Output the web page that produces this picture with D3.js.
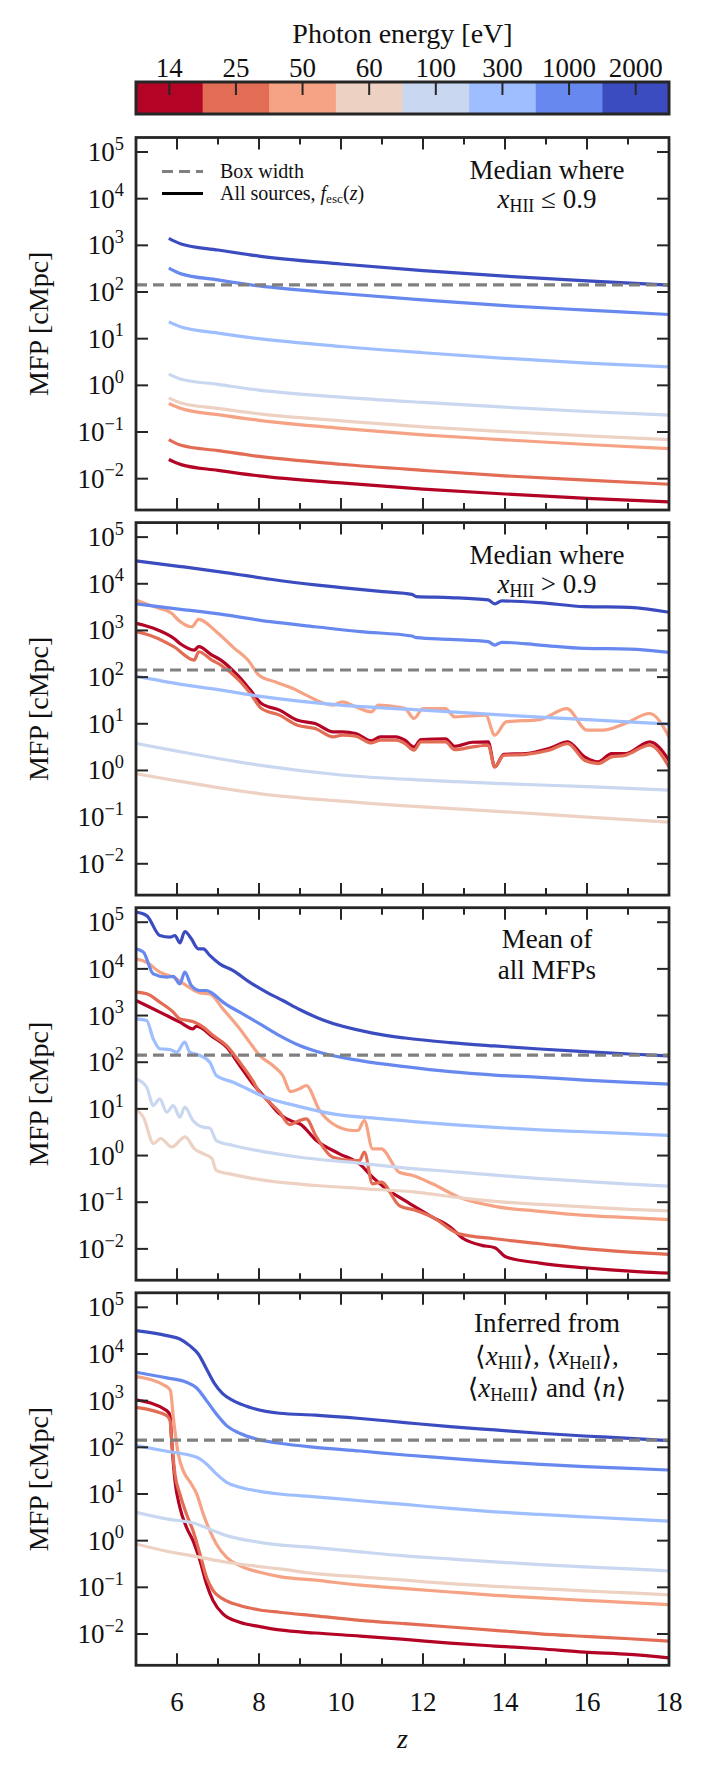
<!DOCTYPE html>
<html>
<head>
<meta charset="utf-8">
<script src="https://cdn.jsdelivr.net/npm/d3@7"></script>
<style>
  body { margin: 0; background: #fff; }
  svg { display: block; font-family: "Liberation Serif", "DejaVu Serif", serif; }
</style>
</head>
<body>
<svg id="chart"></svg>
<script>
// photon energies and their colours (coolwarm, discrete)
const energies = [14, 25, 50, 60, 100, 300, 1000, 2000];
const energyColors = ["#b40426", "#e36c55", "#f6a385", "#edd1c2", "#c9d7f0", "#9ebeff", "#6788ee", "#3b4cc0"];

const boxWidth = 142; // cMpc
const zMajorTicks = [6, 8, 10, 12, 14, 16, 18];
const zMinorTicks = [7, 9, 11, 13, 15, 17];
const yTickExps = [-2, -1, 0, 1, 2, 3, 4, 5];

// panel 1: median where x_HII <= 0.9 (shared redshifts)
const zMedianLow = [5.8, 6.1, 7, 8, 10, 12, 14, 16, 18];
const mfpMedianLow = [
  [0.0257, 0.020, 0.0151, 0.0115, 0.0081, 0.0060, 0.0047, 0.0038, 0.0032],
  [0.069, 0.052, 0.040, 0.030, 0.0204, 0.0151, 0.0115, 0.0093, 0.0076],
  [0.41, 0.32, 0.235, 0.178, 0.120, 0.087, 0.068, 0.054, 0.044],
  [0.54, 0.42, 0.32, 0.245, 0.174, 0.129, 0.102, 0.083, 0.069],
  [1.74, 1.35, 1.05, 0.79, 0.56, 0.43, 0.34, 0.275, 0.23],
  [22.9, 17.8, 13.2, 10.0, 6.8, 5.0, 3.8, 3.0, 2.5],
  [324, 245, 182, 135, 93, 68, 51, 41, 33],
  [1410, 1070, 794, 589, 398, 288, 219, 174, 141]
];

// panel 2: median where x_HII > 0.9, [z, mfp]
const mfpMedianHigh = [
  [[5,1420],[5.43,1110],[5.92,678],[6.09,512],[6.42,380],[6.53,449],[6.85,297],[7.07,232],[7.51,102],[7.79,52.6],[8.06,27.2],[8.5,19.6],[8.94,11.9],[9.37,10.1],[9.81,6.7],[10.03,6.7],[10.36,6.18],[10.74,4.3],[10.96,5.24],[11.34,5.24],[11.56,4.44],[11.78,3.19],[11.95,4.59],[12.55,4.74],[12.77,3.3],[13.21,4.02],[13.59,4.09],[13.75,1.19],[13.97,2.22],[14.52,2.3],[15.07,2.94],[15.53,4.09],[15.94,1.95],[16.27,1.52],[16.6,2.3],[16.93,2.3],[17.53,4.09],[18,1.65]],
  [[5,942],[5.43,735],[5.92,449],[6.42,232],[6.53,350],[6.85,232],[7.07,181],[7.51,86.3],[7.79,44.6],[8.06,21.2],[8.5,15.3],[8.94,9.31],[9.37,7.91],[9.81,5.24],[10.03,5.69],[10.36,5.41],[10.74,3.89],[10.96,4.44],[11.34,4.44],[11.56,3.77],[11.78,2.71],[11.95,4.09],[12.55,4.09],[12.77,2.8],[13.21,3.19],[13.59,3.47],[13.75,1.19],[13.97,2.11],[14.52,2.22],[15.07,2.71],[15.53,3.77],[15.94,1.65],[16.27,1.4],[16.6,1.95],[16.93,2.11],[17.53,3.47],[18,1.19]],
  [[5,4500],[5.43,3240],[5.87,2330],[6.03,1670],[6.36,1200],[6.53,1730],[6.96,942],[7.4,413],[7.73,232],[8,110],[8.39,79.4],[8.83,57.1],[9.15,41.1],[9.81,25.1],[10.03,29.6],[10.36,23.1],[10.74,18],[10.91,25.1],[11.34,23.1],[11.56,21.2],[11.78,13],[12,21.2],[12.55,21.2],[12.77,14.1],[13.53,15.3],[13.75,5.69],[14.03,11],[14.85,12.3],[15.51,21.2],[16,7.28],[16.38,7.28],[16.93,10.1],[17.53,16.6],[18,5.24]],
  [[5,0.85],[6,0.6],[7,0.43],[8,0.32],[10,0.22],[12,0.165],[14,0.13],[16,0.1],[18,0.078]],
  [[5,3.8],[6.1,2.5],[7,1.8],[8,1.3],[10,0.8],[12,0.62],[14,0.52],[16,0.45],[18,0.38]],
  [[5,105],[6.1,70],[7,54],[8,39],[10,25],[12,19.6],[14,15.3],[16,12.3],[18,9.8]],
  [[5,3700],[6.09,2840],[7.18,2150],[8.28,1540],[9.37,1200],[10.47,942],[11.73,759],[11.84,700],[12.66,645],[13.59,574],[13.75,487],[13.92,556],[14.85,487],[15.94,413],[17.04,399],[18,339]],
  [[5,31000],[6.09,23400],[7.18,17400],[8.28,12500],[9.37,9460],[10.01,8280],[11.02,6790],[11.73,5950],[11.84,5310],[12.66,5060],[13.59,4510],[13.75,3700],[13.92,4290],[14.85,3950],[15.94,3240],[17.04,3130],[18,2450]]
];

// panel 3: mean of all MFPs
const mfpMeanAll = [
  [[5,2100],[5.34,1510],[5.75,1000],[6.07,721],[6.39,520],[6.47,590],[6.88,344],[7.21,210],[7.53,84.9],[7.85,34.4],[8.18,16.4],[8.5,7.83],[8.83,5.3],[8.99,4.8],[9.4,2.1],[9.96,1.09],[10.45,0.665],[10.77,0.344],[11.1,0.194],[11.42,0.128],[11.83,0.078],[12.23,0.048],[12.66,0.0294],[12.99,0.0165],[13.43,0.0119],[13.75,0.0106],[14.03,0.00667],[14.85,0.00495],[15.94,0.00394],[17.04,0.00333],[18,0.00302]],
  [[5,3170],[5.26,2920],[5.58,1940],[5.91,1180],[6.07,849],[6.27,783],[6.43,721],[6.64,564],[6.88,373],[7.21,228],[7.53,100],[7.85,40],[8.02,22],[8.18,16],[8.5,8.5],[8.75,4.6],[8.99,5.6],[9.15,6.1],[9.4,2.5],[9.8,0.92],[10.29,0.78],[10.45,0.78],[10.57,1.18],[10.77,0.248],[10.98,0.27],[11.42,0.085],[11.83,0.0665],[12.23,0.048],[12.88,0.021],[13.75,0.0165],[14.85,0.0129],[15.94,0.0101],[17.04,0.00853],[18,0.0076]],
  [[5,16400],[5.26,13900],[5.58,8490],[5.91,6640],[6.23,4400],[6.56,3070],[6.8,2920],[7.12,1390],[7.53,519],[7.77,269],[8.02,139],[8.34,84.9],[8.58,51.9],[8.77,23.5],[8.99,27],[9.15,31.7],[9.48,9.2],[9.8,4.8],[10.29,3.44],[10.41,3.44],[10.57,5.64],[10.77,1.39],[10.98,1.39],[11.42,0.44],[11.75,0.374],[12.23,0.248],[12.88,0.128],[13.75,0.0817],[14.85,0.0638],[15.94,0.0524],[17.04,0.0467],[18,0.0423]],
  [[5,10],[5.18,6.6],[5.43,1.81],[5.6,2.32],[5.87,1.53],[6.2,2.52],[6.42,1.41],[6.64,1.1],[6.85,0.863],[6.96,0.48],[7.37,0.39],[8.18,0.29],[9.4,0.228],[10.61,0.194],[11.83,0.164],[12.88,0.125],[13.75,0.104],[14.85,0.0902],[15.94,0.0791],[17.04,0.0705],[18,0.065]],
  [[5,44.1],[5.26,29.2],[5.42,11.8],[5.58,16.4],[5.75,8.49],[5.91,11.8],[6.07,6.64],[6.19,10.9],[6.39,5.64],[6.64,4.06],[6.8,3.9],[6.96,2.1],[7.37,1.64],[8.18,1.18],[8.99,0.92],[10.21,0.72],[11.42,0.56],[12.88,0.44],[13.75,0.38],[14.85,0.32],[15.94,0.28],[17.04,0.245],[18,0.22]],
  [[5,849],[5.26,783],[5.42,317],[5.58,194],[5.83,187],[5.99,164],[6.19,269],[6.31,164],[6.56,139],[6.8,100],[6.96,51.9],[7.37,37.3],[8.18,17.5],[8.99,11.2],[9.8,7.8],[11.02,6.1],[12.88,4.5],[13.75,4.0],[14.85,3.55],[15.94,3.24],[17.04,2.95],[18,2.7]],
  [[5,26900],[5.18,22800],[5.42,7830],[5.75,6640],[5.91,6900],[6.07,4780],[6.19,8490],[6.35,4400],[6.56,3440],[6.72,3440],[6.88,2920],[7.12,1940],[7.53,1180],[8.02,664],[8.5,373],[8.99,228],[9.56,155],[10.47,108],[11.56,80.2],[12.66,62.7],[13.75,53.1],[14.85,47.3],[15.94,41.5],[17.04,37],[18,34]],
  [[5,164000],[5.26,139000],[5.58,51900],[5.83,47800],[5.95,51900],[6.07,36100],[6.19,63200],[6.35,44000],[6.52,26900],[6.64,26900],[6.8,19400],[7.04,12800],[7.37,9230],[7.77,5190],[8.18,3170],[8.58,2100],[8.99,1350],[9.56,800],[10.77,420],[11.56,330],[12.66,263],[13.75,223],[14.85,192],[15.94,168],[17.04,150],[18,137]]
];

// panel 4: inferred from global averages
const mfpInferred = [
  [[5,1040],[5.75,612],[5.83,479],[5.87,139],[5.95,19.4],[6.07,5.19],[6.23,1.94],[6.39,1.0],[6.56,0.374],[6.72,0.118],[6.88,0.0519],[7.12,0.0269],[7.53,0.0178],[8.02,0.0144],[8.5,0.0122],[9.37,0.0105],[10.47,0.00904],[11.56,0.00766],[12.66,0.00638],[13.75,0.00551],[14.85,0.00483],[15.94,0.00409],[17.04,0.00365],[18,0.00309]],
  [[5,721],[5.75,479],[5.83,374],[5.87,139],[5.95,26.9],[6.07,10],[6.23,3.74],[6.39,1.64],[6.56,0.519],[6.72,0.164],[6.88,0.0851],[7.12,0.0564],[7.53,0.0406],[8.02,0.0327],[8.5,0.0292],[9.37,0.0245],[10.47,0.0196],[11.56,0.0166],[12.66,0.0141],[13.75,0.012],[14.85,0.0101],[15.94,0.0089],[17.04,0.0079],[18,0.007]],
  [[5,3270],[5.75,2000],[5.84,1640],[5.91,441],[6.03,72.1],[6.15,31.7],[6.35,16.4],[6.48,10],[6.64,3.74],[6.8,1.64],[6.96,0.85],[7.21,0.44],[7.53,0.292],[8.02,0.21],[8.5,0.17],[9.37,0.142],[10.47,0.111],[11.56,0.0938],[12.66,0.0794],[13.75,0.0675],[14.85,0.0592],[15.94,0.0527],[17.04,0.0469],[18,0.0426]],
  [[5,0.85],[5.75,0.593],[6.48,0.455],[7.21,0.344],[8.02,0.278],[8.5,0.248],[9.37,0.197],[10.47,0.167],[11.56,0.142],[12.66,0.12],[13.75,0.105],[14.85,0.0938],[15.94,0.0836],[17.04,0.0757],[18,0.0686]],
  [[5,4.06],[5.75,2.92],[6.48,2.28],[6.88,1.64],[7.21,1.28],[7.53,1.09],[8.02,0.92],[8.5,0.81],[9.37,0.711],[10.47,0.574],[11.56,0.471],[12.66,0.406],[13.75,0.351],[14.85,0.307],[15.94,0.274],[17.04,0.248],[18,0.224]],
  [[5,109],[5.75,82.3],[6.48,61.2],[6.72,44.1],[6.96,26.9],[7.21,17.8],[7.53,13.9],[8.02,11.4],[8.5,10],[9.37,8.71],[10.47,7.16],[11.56,5.97],[12.66,4.9],[13.75,4.15],[14.85,3.64],[15.94,3.24],[17.04,2.89],[18,2.62]],
  [[5,4060],[5.75,3070],[6.23,2480],[6.48,1870],[6.72,1000],[6.96,519],[7.21,292],[7.53,200],[8.02,144],[8.5,122],[9.37,100],[10.47,83.4],[11.56,68.4],[12.66,58.1],[13.75,49.2],[14.85,43.2],[15.94,38.5],[17.04,35.5],[18,32.6]],
  [[5,31700],[5.75,24800],[6.07,21000],[6.31,15100],[6.52,10000],[6.72,4790],[6.92,2280],[7.12,1390],[7.37,1000],[7.77,721],[8.5,537],[9.37,490],[10.47,415],[11.56,339],[12.66,278],[13.75,236],[14.85,200],[15.94,175],[17.04,156],[18,139]]
];

// annotation text per panel: lines of [text, kind]
const panelNotes = [
  [[["Median where", "r"]], [["x", "i"], ["HII", "sub"], [" \u2264 0.9", "r"]]],
  [[["Median where", "r"]], [["x", "i"], ["HII", "sub"], [" > 0.9", "r"]]],
  [[["Mean of", "r"]], [["all MFPs", "r"]]],
  [[["Inferred from", "r"]],
   [["\u27e8", "r"], ["x", "i"], ["HII", "sub"], ["\u27e9, \u27e8", "r"], ["x", "i"], ["HeII", "sub"], ["\u27e9,", "r"]],
   [["\u27e8", "r"], ["x", "i"], ["HeIII", "sub"], ["\u27e9 and \u27e8", "r"], ["n", "i"], ["\u27e9", "r"]]]
];
const noteBaselines = [[41, 70], [41, 70], [40, 71], [39, 72, 104]];

const width = 707, height = 1777;
const margin = {left: 136, right: 38};
const panelTop0 = 137.5, panelStep = 385.1, panelH = 372.5;
const dark = "#262626";
const noteSize = 27;

const svg = d3.select("#chart").attr("width", width).attr("height", height);
svg.append("rect").attr("width", width).attr("height", height).attr("fill", "#fff");

const x = d3.scaleLinear().domain([5, 18]).range([margin.left, width - margin.right]);

// writes mixed roman / italic / subscript / superscript runs into a text element
function richText(sel, parts, size) {
  let shift = 0;
  parts.forEach(([s, k]) => {
    const t = sel.append("tspan").text(s);
    if (k === "i") t.attr("font-style", "italic");
    let target = 0;
    if (k === "sub") { target = size * 0.17; t.attr("font-size", size * 0.66); }
    if (k === "sup") { target = -size * 0.42; t.attr("font-size", size * 0.68); }
    if (target !== shift) { t.attr("dy", target - shift); shift = target; }
  });
}

// colour bar
const cb = svg.append("g");
const cbTop = 82, cbH = 32;
const cbX = d3.scaleBand().domain(energies).range(x.range());
cb.selectAll("rect.seg").data(energies).join("rect")
  .attr("class", "seg")
  .attr("x", d => cbX(d)).attr("width", cbX.bandwidth() + 0.5)
  .attr("y", cbTop).attr("height", cbH)
  .attr("fill", (d, i) => energyColors[i]);
cb.selectAll("line").data(energies).join("line")
  .attr("x1", d => cbX(d) + cbX.bandwidth() / 2).attr("x2", d => cbX(d) + cbX.bandwidth() / 2)
  .attr("y1", cbTop).attr("y2", cbTop + 13)
  .attr("stroke", dark).attr("stroke-width", 2);
cb.append("rect").attr("x", x.range()[0]).attr("y", cbTop)
  .attr("width", x.range()[1] - x.range()[0]).attr("height", cbH)
  .attr("fill", "none").attr("stroke", dark).attr("stroke-width", 3);
cb.selectAll("text").data(energies).join("text")
  .attr("x", d => cbX(d) + cbX.bandwidth() / 2).attr("y", 77)
  .attr("text-anchor", "middle").attr("font-size", 27).attr("fill", "#111")
  .text(d => d);
svg.append("text").attr("x", (x.range()[0] + x.range()[1]) / 2).attr("y", 43)
  .attr("text-anchor", "middle").attr("font-size", 28).attr("fill", "#111")
  .text("Photon energy [eV]");

const panels = [
  energies.map((e, i) => zMedianLow.map((z, j) => [z, mfpMedianLow[i][j]])),
  mfpMedianHigh,
  mfpMeanAll,
  mfpInferred
];

panels.forEach((series, p) => {
  const top = panelTop0 + p * panelStep;
  const bottom = top + panelH;
  const y = d3.scaleLog().domain([Math.pow(10, -2.671), Math.pow(10, 5.311)]).range([bottom, top]);
  const g = svg.append("g");

  g.append("clipPath").attr("id", "clip" + p)
    .append("rect").attr("x", x.range()[0]).attr("y", top)
    .attr("width", x.range()[1] - x.range()[0]).attr("height", panelH);

  const line = d3.line().x(d => x(d[0])).y(d => y(d[1])).curve(d3.curveMonotoneX);

  const lines = g.append("g").attr("clip-path", `url(#clip${p})`);
  lines.selectAll("path").data(series).join("path")
    .attr("d", line)
    .attr("fill", "none")
    .attr("stroke", (d, i) => energyColors[i])
    .attr("stroke-width", 3.2)
    .attr("stroke-linejoin", "round");

  // box width
  lines.append("line")
    .attr("x1", x(5)).attr("x2", x(18))
    .attr("y1", y(boxWidth)).attr("y2", y(boxWidth))
    .attr("stroke", "#808080").attr("stroke-width", 3.2)
    .attr("stroke-dasharray", "11,6");

  // frame
  g.append("rect").attr("x", x.range()[0]).attr("y", top)
    .attr("width", x.range()[1] - x.range()[0]).attr("height", panelH)
    .attr("fill", "none").attr("stroke", dark).attr("stroke-width", 2.8);

  // ticks, all pointing inwards
  const ticks = g.append("g").attr("stroke", dark).attr("stroke-width", 2);
  const xt = zMajorTicks.map(v => [v, 12]).concat(zMinorTicks.map(v => [v, 7]));
  xt.forEach(([v, len]) => {
    ticks.append("line").attr("x1", x(v)).attr("x2", x(v)).attr("y1", bottom).attr("y2", bottom - len);
    ticks.append("line").attr("x1", x(v)).attr("x2", x(v)).attr("y1", top).attr("y2", top + len);
  });
  yTickExps.forEach(k => {
    const yy = y(Math.pow(10, k));
    ticks.append("line").attr("x1", x.range()[0]).attr("x2", x.range()[0] + 12).attr("y1", yy).attr("y2", yy);
    ticks.append("line").attr("x1", x.range()[1]).attr("x2", x.range()[1] - 12).attr("y1", yy).attr("y2", yy);
    const t = g.append("text").attr("x", 124).attr("y", yy + 9)
      .attr("text-anchor", "end").attr("font-size", 27).attr("fill", "#111");
    richText(t, [["10", "r"], [k < 0 ? "\u2212" + Math.abs(k) : String(k), "sup"]], 27);
  });

  // y label
  g.append("text")
    .attr("transform", `translate(48,${(top + bottom) / 2}) rotate(-90)`)
    .attr("text-anchor", "middle").attr("font-size", 28).attr("fill", "#111")
    .text("MFP [cMpc]");

  // panel note
  panelNotes[p].forEach((parts, li) => {
    const t = g.append("text").attr("x", 547).attr("y", top + noteBaselines[p][li])
      .attr("text-anchor", "middle").attr("font-size", noteSize).attr("fill", "#111");
    richText(t, parts, noteSize);
  });

  // legend only in the first panel
  if (p === 0) {
    const lg = g.append("g");
    lg.append("line").attr("x1", 162).attr("x2", 203).attr("y1", top + 34).attr("y2", top + 34)
      .attr("stroke", "#808080").attr("stroke-width", 3.2).attr("stroke-dasharray", "11,6");
    lg.append("line").attr("x1", 162).attr("x2", 203).attr("y1", top + 56).attr("y2", top + 56)
      .attr("stroke", "#000").attr("stroke-width", 3.2);
    lg.append("text").attr("x", 220).attr("y", top + 40).attr("font-size", 20).attr("fill", "#111")
      .text("Box width");
    const t2 = lg.append("text").attr("x", 220).attr("y", top + 62).attr("font-size", 20).attr("fill", "#111");
    richText(t2, [["All sources, ", "r"], ["f", "i"], ["esc", "sub"], ["(", "r"], ["z", "i"], [")", "r"]], 20);
  }

  // x tick labels only under the last panel
  if (p === panels.length - 1) {
    g.selectAll("text.xt").data(zMajorTicks).join("text")
      .attr("class", "xt")
      .attr("x", d => x(d)).attr("y", bottom + 46)
      .attr("text-anchor", "middle").attr("font-size", 27).attr("fill", "#111")
      .text(d => d);
    g.append("text").attr("x", x(11.5)).attr("y", bottom + 83)
      .attr("text-anchor", "middle").attr("font-size", 28).attr("font-style", "italic").attr("fill", "#111")
      .text("z");
  }
});
</script>
</body>
</html>
